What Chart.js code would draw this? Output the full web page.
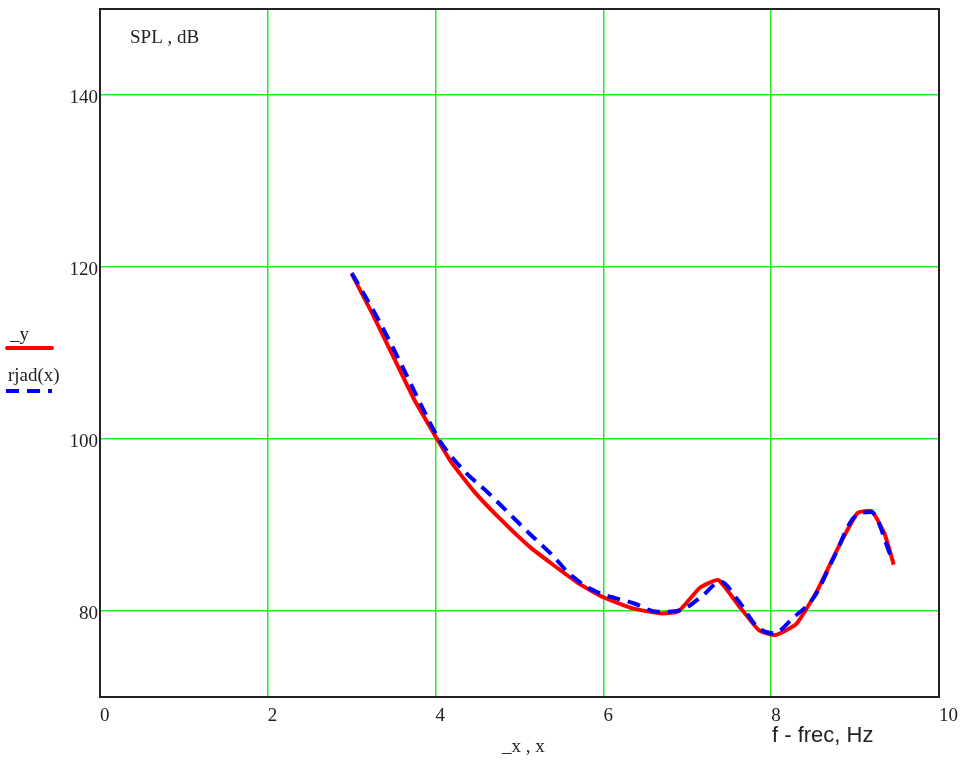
<!DOCTYPE html>
<html>
<head>
<meta charset="utf-8">
<script src="https://cdn.jsdelivr.net/npm/chart.js@4/dist/chart.umd.min.js"></script>
<style>
  html, body { margin: 0; padding: 0; background: #fff; }
  canvas { display: block; }
</style>
</head>
<body>
<canvas id="spl" width="960" height="765"></canvas>
<script>
// measured trace: _y
const measX = [3.0, 3.25, 3.5, 3.75, 4.0, 4.18, 4.45, 4.74, 5.13, 5.69, 6.0, 6.35, 6.7, 6.9, 7.15, 7.37, 7.6, 7.85, 8.05, 8.3, 8.55, 8.8, 9.03, 9.2, 9.35, 9.46];
const measY = [119.2, 114.5, 109.5, 104.5, 100.3, 97.4, 94.0, 91.0, 87.4, 83.3, 81.6, 80.3, 79.7, 80.0, 82.7, 83.6, 80.8, 77.8, 77.2, 78.5, 82.4, 87.4, 91.4, 91.6, 89.0, 85.4];

// fitted trace: rjad(x)
const fitX = [3.0, 3.3, 3.6, 3.85, 4.05, 4.33, 4.62, 4.86, 5.13, 5.37, 5.61, 5.88, 6.36, 6.65, 6.92, 7.16, 7.4, 7.6, 7.84, 8.03, 8.26, 8.51, 8.75, 8.99, 9.19, 9.43];
const fitY = [119.3, 114.2, 108.5, 103.5, 99.8, 96.4, 93.8, 91.5, 88.9, 86.7, 84.2, 82.4, 80.9, 79.9, 80.1, 81.6, 83.4, 81.3, 78.1, 77.4, 79.2, 81.6, 86.3, 90.9, 91.5, 86.3];

const xTicks = [0, 2, 4, 6, 8, 10];
const yTicks = [80, 100, 120, 140];

const serif = '"Liberation Serif", "Times New Roman", serif';
const sans = '"Liberation Sans", Arial, sans-serif';

// frame, axis titles and the little legend on the left
const decor = {
  id: 'decor',
  afterDraw(chart) {
    const { ctx, chartArea: a } = chart;
    ctx.save();
    ctx.strokeStyle = '#222';
    ctx.lineWidth = 2;
    ctx.strokeRect(a.left, a.top, a.right - a.left, a.bottom - a.top);

    ctx.fillStyle = '#222';
    ctx.textBaseline = 'alphabetic';
    ctx.textAlign = 'left';
    ctx.font = '19px ' + serif;
    ctx.fillText('SPL , dB', 130, 43);
    ctx.fillText('_x , x', 502, 752);
    ctx.fillText('_y', 10, 340);
    ctx.fillText('rjad(x)', 8, 381);

    ctx.font = '22px ' + sans;
    ctx.fillText('f - frec, Hz', 772, 742);

    ctx.lineCap = 'round';
    ctx.lineWidth = 4;
    ctx.strokeStyle = '#ff0000';
    ctx.beginPath();
    ctx.moveTo(7, 348);
    ctx.lineTo(52, 348);
    ctx.stroke();

    ctx.strokeStyle = '#0000ff';
    ctx.lineCap = 'butt';
    ctx.setLineDash([13, 8]);
    ctx.beginPath();
    ctx.moveTo(6, 391);
    ctx.lineTo(52, 391);
    ctx.stroke();
    ctx.restore();
  }
};

new Chart(document.getElementById('spl'), {
  type: 'line',
  data: {
    datasets: [
      {
        label: '_y',
        data: measX.map((x, i) => ({ x: x, y: measY[i] })),
        borderColor: '#ff0000',
        borderWidth: 4,
        pointRadius: 0,
        tension: 0.15,
        order: 2,
      },
      {
        label: 'rjad(x)',
        data: fitX.map((x, i) => ({ x: x, y: fitY[i] })),
        borderColor: '#0000ff',
        borderWidth: 4,
        borderDash: [13, 8],
        pointRadius: 0,
        cubicInterpolationMode: 'monotone',
        order: 1,
      },
    ],
  },
  options: {
    responsive: false,
    animation: false,
    devicePixelRatio: 1,
    layout: { padding: { top: 9, right: 21, left: 0, bottom: 0 } },
    plugins: { legend: { display: false }, tooltip: { enabled: false } },
    scales: {
      x: {
        type: 'linear',
        min: 0,
        max: 10,
        afterBuildTicks: (s) => { s.ticks = xTicks.map(v => ({ value: v })); },
        afterFit: (s) => { s.height = 68; s.paddingLeft = 0; s.paddingRight = 0; },
        border: { display: false },
        grid: {
          drawTicks: false,
          lineWidth: 1.5,
          color: (c) => (c.tick && (c.tick.value === 0 || c.tick.value === 10)) ? 'rgba(0,0,0,0)' : '#22ee22',
        },
        ticks: {
          align: 'start',
          padding: 8,
          color: '#222',
          font: { family: serif, size: 19 },
          maxRotation: 0,
        },
      },
      y: {
        min: 70,
        max: 150,
        afterBuildTicks: (s) => { s.ticks = yTicks.map(v => ({ value: v })); },
        afterFit: (s) => { s.width = 100; s.paddingTop = 0; s.paddingBottom = 0; },
        border: { display: false },
        grid: { drawTicks: false, lineWidth: 1.5, color: '#22ee22' },
        ticks: {
          padding: 2,
          labelOffset: 3,
          color: '#222',
          font: { family: serif, size: 19 },
        },
      },
    },
  },
  plugins: [decor],
});
</script>
</body>
</html>
